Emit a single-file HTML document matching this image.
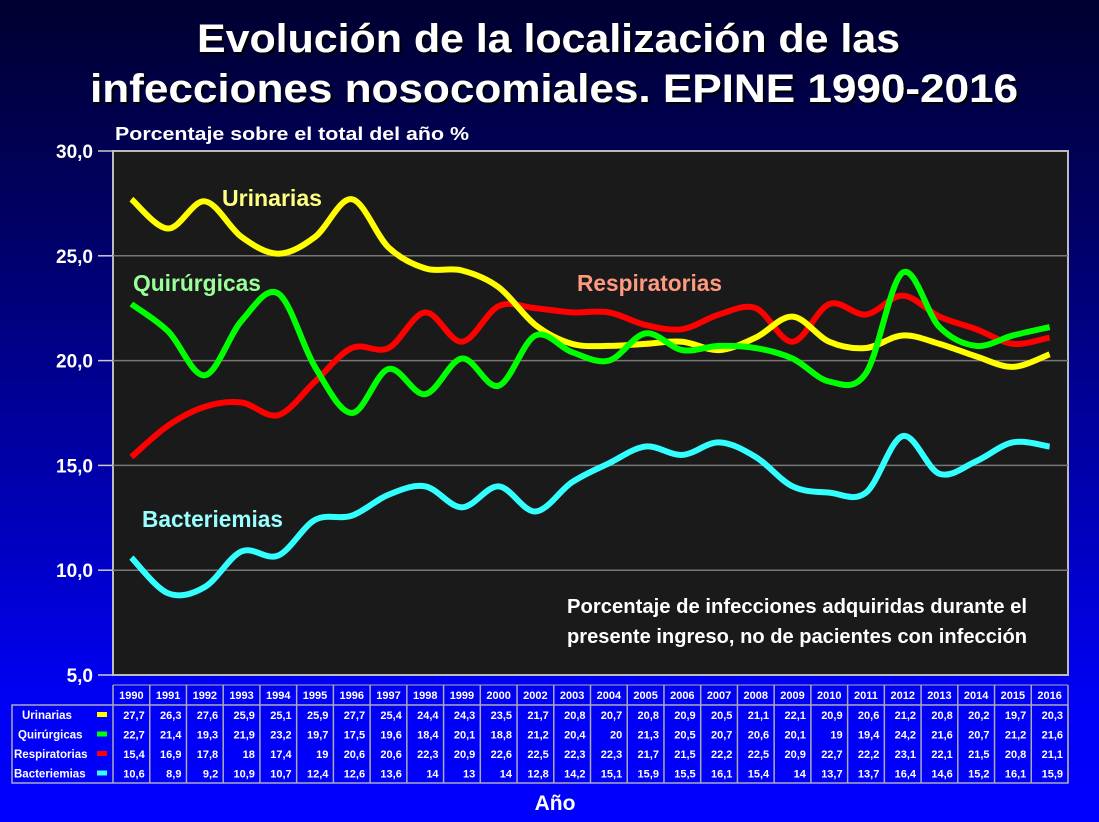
<!DOCTYPE html>
<html><head><meta charset="utf-8"><style>
html,body{margin:0;padding:0;width:1099px;height:822px;overflow:hidden}
body{background:linear-gradient(to bottom,#000030 0%,#000060 25%,#0000b0 60%,#0000f5 85%,#0000ff 100%)}
svg{position:absolute;left:0;top:0;font-family:"Liberation Sans",sans-serif;font-weight:bold}
</style></head><body>
<svg id="chart" width="1099" height="822">
<defs><filter id="sh"><feDropShadow dx="2" dy="2" stdDeviation="0.5" flood-color="#000"/></filter></defs>
<g fill="#fff" font-size="40" filter="url(#sh)">
<text x="197" y="52" textLength="703" lengthAdjust="spacingAndGlyphs">Evolución de la localización de las</text>
<text x="90" y="102" textLength="928" lengthAdjust="spacingAndGlyphs">infecciones nosocomiales. EPINE 1990-2016</text>
</g>
<text x="115" y="140" fill="#fff" font-size="18" textLength="354" lengthAdjust="spacingAndGlyphs">Porcentaje sobre el total del año %</text>
<rect x="113" y="151" width="955" height="524" fill="#1a1a1a" stroke="#bbb" stroke-width="2"/>
<g id="grid"></g><g id="series"></g>
<g font-size="23">
<text x="222" y="206" fill="#ffff80" textLength="100" lengthAdjust="spacingAndGlyphs">Urinarias</text>
<text x="133" y="291" fill="#99ff99" textLength="128" lengthAdjust="spacingAndGlyphs">Quirúrgicas</text>
<text x="577" y="291" fill="#ff9980" textLength="145" lengthAdjust="spacingAndGlyphs">Respiratorias</text>
<text x="142" y="527" fill="#99ffff" textLength="141" lengthAdjust="spacingAndGlyphs">Bacteriemias</text>
</g>
<g fill="#fff" font-size="20" text-anchor="middle">
<text x="797" y="613" textLength="460" lengthAdjust="spacingAndGlyphs">Porcentaje de infecciones adquiridas durante el</text>
<text x="797" y="643" textLength="460" lengthAdjust="spacingAndGlyphs">presente ingreso, no de pacientes con infección</text>
</g>
<g id="table"></g>
<text x="555" y="810" fill="#fff" font-size="21" text-anchor="middle">Año</text>
</svg>
<script>
const years=['1990','1991','1992','1993','1994','1995','1996','1997','1998','1999','2000','2002','2003','2004','2005','2006','2007','2008','2009','2010','2011','2012','2013','2014','2015','2016'];
const urinarias=[27.7,26.3,27.6,25.9,25.1,25.9,27.7,25.4,24.4,24.3,23.5,21.7,20.8,20.7,20.8,20.9,20.5,21.1,22.1,20.9,20.6,21.2,20.8,20.2,19.7,20.3];
const quirurgicas=[22.7,21.4,19.3,21.9,23.2,19.7,17.5,19.6,18.4,20.1,18.8,21.2,20.4,20,21.3,20.5,20.7,20.6,20.1,19,19.4,24.2,21.6,20.7,21.2,21.6];
const respiratorias=[15.4,16.9,17.8,18,17.4,19,20.6,20.6,22.3,20.9,22.6,22.5,22.3,22.3,21.7,21.5,22.2,22.5,20.9,22.7,22.2,23.1,22.1,21.5,20.8,21.1];
const bacteriemias=[10.6,8.9,9.2,10.9,10.7,12.4,12.6,13.6,14,13,14,12.8,14.2,15.1,15.9,15.5,16.1,15.4,14,13.7,13.7,16.4,14.6,15.2,16.1,15.9];
const yTicks=[5,10,15,20,25,30];
const yTickLabels=['5,0','10,0','15,0','20,0','25,0','30,0'];
const seriesNames=['Urinarias','Quirúrgicas','Respiratorias','Bacteriemias'];
const NS='http://www.w3.org/2000/svg';
const X0=113,X1=1068,Y0=675,Y1=151;
const colW=(X1-X0)/years.length;
function xPos(i){return X0+colW*(i+0.5);}
function yPos(v){return Y0-(v-5)/25*(Y0-Y1);}
function mk(t,a,p){const e=document.createElementNS(NS,t);for(const k in a)e.setAttribute(k,a[k]);p.appendChild(e);return e;}
const grid=document.getElementById('grid');
yTicks.forEach((v,i)=>{
 const y=yPos(v);
 if(v>5&&v<30){const l=mk('line',{x1:X0,x2:X1,y1:y,y2:y,stroke:'#777','stroke-width':1.5},grid);
 
 }
 const tk=mk('line',{x1:98,x2:X0,y1:y,y2:y,stroke:'#ccc','stroke-width':1.5},grid);
 
 
 const t=mk('text',{x:93,y:y+7,fill:'#fff','font-size':19,'text-anchor':'end'},grid);
 
 
 t.textContent=yTickLabels[i];
});
function smooth(vals){
 const p=vals.map((v,i)=>[xPos(i),yPos(v)]);
 let d='M'+p[0][0]+','+p[0][1];
 for(let i=0;i<p.length-1;i++){
  const p0=p[Math.max(i-1,0)],p1=p[i],p2=p[i+1],p3=p[Math.min(i+2,p.length-1)];
  const c1=[p1[0]+(p2[0]-p0[0])/6,p1[1]+(p2[1]-p0[1])/6];
  const c2=[p2[0]-(p3[0]-p1[0])/6,p2[1]-(p3[1]-p1[1])/6];
  d+=' C'+c1[0]+','+c1[1]+' '+c2[0]+','+c2[1]+' '+p2[0]+','+p2[1];
 }
 return d;
}
const sg=document.getElementById('series');
const allSeries=[urinarias,quirurgicas,respiratorias,bacteriemias];
const colors=['#ffff00','#00ff00','#ff0000','#33ffff'];
const order=[2,0,1,3];
const snames=['line-urinarias','line-quirurgicas','line-respiratorias','line-bacteriemias'];
order.forEach(k=>{
 const pth=mk('path',{d:smooth(allSeries[k]),fill:'none',stroke:colors[k],'stroke-width':6,'stroke-linejoin':'round'},sg);
 
 
});
const tb=document.getElementById('table');
const HY=685,RH=19.5,DY=705;
mk('rect',{x:12,y:DY,width:X1-12,height:RH*4,fill:'none',stroke:'#aab','stroke-width':1.5},tb);
mk('line',{x1:X0,x2:X1,y1:HY,y2:HY,stroke:'#aab','stroke-width':1},tb);
mk('line',{x1:X0,x2:X0,y1:HY,y2:DY+RH*4,stroke:'#aab','stroke-width':1.5},tb);
years.forEach((yr,i)=>{
 const xr=X0+colW*(i+1);
 mk('line',{x1:xr,x2:xr,y1:HY,y2:DY+RH*4,stroke:'#aab','stroke-width':1.5},tb);
 const t=mk('text',{x:xPos(i),y:HY+14,fill:'#fff','font-size':11,'text-anchor':'middle'},tb);
 
 
 t.textContent=yr;
 allSeries.forEach((s,r)=>{
  const c=mk('text',{x:xr-5,y:DY+RH*r+14,fill:'#fff','font-size':11,'text-anchor':'end'},tb);
  
  
  c.textContent=String(s[i]).replace('.',',');
 });
});
seriesNames.forEach((n,r)=>{
 const t=mk('text',{x:r==0?22:(r==1?18:14),y:DY+RH*r+14,fill:'#fff','font-size':11.5},tb);
 
 
 t.textContent=n;
 const sw=mk('rect',{x:97,y:DY+RH*r+7,width:10,height:5,fill:colors[r]},tb);
 
 
});
</script>
</body></html>
